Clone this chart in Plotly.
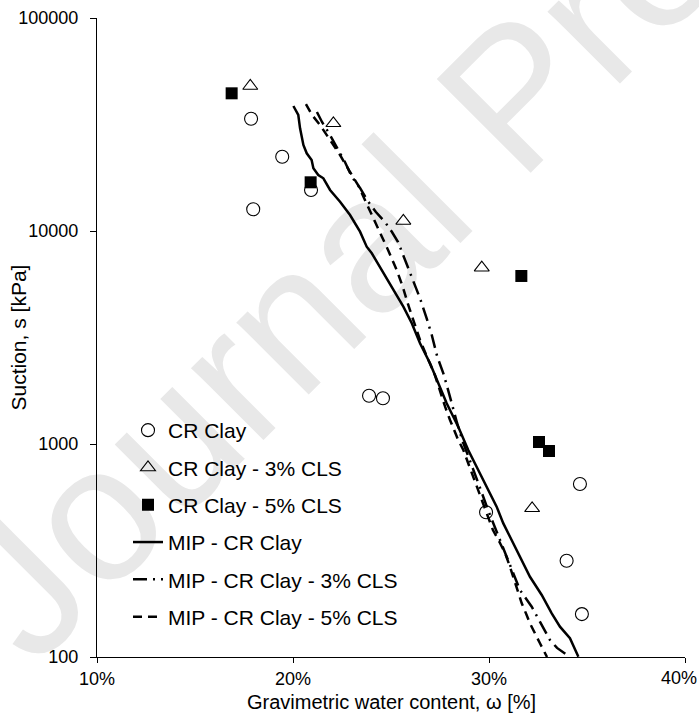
import plotly.graph_objects as go

# ---------------- data ----------------
cr_w = [17.86, 19.45, 20.92, 17.97, 23.88, 24.59, 29.85, 34.64, 33.96, 34.74]
cr_s = [33650, 22330, 15580, 12650, 1686, 1639, 478, 649, 283, 159]

cls3_w = [17.82, 22.06, 25.63, 29.63, 32.20]
cls3_s = [47960, 32030, 11150, 6725, 499]

cls5_w = [16.87, 20.90, 31.65, 32.55, 33.06]
cls5_s = [44300, 16930, 6150, 1022, 927]

mip_w = [20.02, 20.27, 20.36, 20.53, 20.70, 20.95, 21.04, 21.29, 21.55, 21.89, 22.40,
         22.91, 23.42, 23.76, 24.02, 24.61, 25.12, 25.63, 26.06, 26.48, 26.99, 27.41,
         27.84, 28.43, 28.94, 29.45, 29.96, 30.39, 30.73, 31.24, 31.58, 32.09, 32.69,
         33.20, 33.62, 34.13, 34.56]
mip_s = [38630, 35050, 30350, 25340, 23160, 21540, 19700, 18320, 17680, 15580, 13730,
         11890, 9925, 8440, 7860, 6330, 5285, 4412, 3687, 2970, 2393, 1928,
         1553, 1206, 937, 755, 608, 508, 424, 342, 296, 238, 195.5,
         160.4, 138.8, 122.4, 100.3]

mip3_w = [21.22, 21.48, 21.89, 22.30, 22.65, 23.01, 23.42, 23.78, 24.23, 24.69, 25.05,
          25.36, 25.61, 25.87, 26.14, 26.48, 26.82, 27.08, 27.36, 27.67, 27.96, 28.21,
          28.37, 28.67, 29.03, 29.49, 29.95, 30.36, 30.77, 31.22, 31.58, 32.18, 32.86,
          33.11, 33.47, 34.13]
mip3_s = [36210, 32490, 28230, 24010, 21080, 17930, 15920, 13980, 12280, 11020, 9892,
          8879, 7716, 6703, 5781, 4831, 3891, 3249, 2570, 2147, 1730, 1394,
          1255, 1022, 841, 642, 489.9, 394.7, 317.9, 250.6, 206.3, 172.3, 131.5,
          120.2, 110.3, 100]

mip5_w = [20.66, 20.97, 21.38, 21.89, 22.40, 22.91, 23.32, 23.67, 24.03, 24.34, 24.85,
          25.29, 25.60, 25.88, 26.19, 26.48, 26.84, 27.24, 27.76, 28.01, 28.43, 28.69,
          29.03, 29.44, 29.85, 30.20, 30.56, 30.82, 31.07, 31.49, 31.67, 31.92, 32.09,
          32.60, 32.96]
mip5_s = [39460, 35050, 31460, 26750, 22740, 18920, 16440, 13980, 11890, 10330, 8143,
          6560, 5476, 4494, 3687, 3078, 2562, 2108, 1497, 1296, 1044, 937,
          771, 608, 474.5, 394.7, 343, 307.7, 265.4, 199.1, 178.7, 157.5, 143.9,
          116.0, 100]

x_ticks = [10, 20, 30, 40]
x_tick_labels = ["10%", "20%", "30%", ""]   # last label placed as annotation to stay inside the page
x_last_label = "40%"
y_ticks = [100, 1000, 10000, 100000]
y_tick_labels = ["100", "1000", "10000", "100000"]

FONT = "Liberation Sans, Arial, sans-serif"

fig = go.Figure()

fig.add_trace(go.Scatter(x=cr_w, y=cr_s, mode="markers", name="CR Clay",
                         legendgroup="a",
                         marker=dict(symbol="circle-open", size=13, color="black",
                                     line=dict(width=1.1, color="black"))))
fig.add_trace(go.Scatter(x=cls3_w, y=cls3_s, mode="markers", name="CR Clay - 3% CLS",
                         legendgroup="b",
                         marker=dict(symbol="triangle-up-open", size=13, color="black",
                                     line=dict(width=1.1, color="black"))))
fig.add_trace(go.Scatter(x=cls5_w, y=cls5_s, mode="markers", name="CR Clay - 5% CLS",
                         legendgroup="c",
                         marker=dict(symbol="square", size=12, color="black",
                                     line=dict(width=0))))
fig.add_trace(go.Scatter(x=mip_w, y=mip_s, mode="lines", name="MIP - CR Clay",
                         legendgroup="d",
                         line=dict(color="black", width=2.5)))
fig.add_trace(go.Scatter(x=mip3_w, y=mip3_s, mode="lines", name="MIP - CR Clay - 3% CLS",
                         legendgroup="e",
                         line=dict(color="black", width=2.5, dash="14px,6px,2px,6px")))
fig.add_trace(go.Scatter(x=mip5_w, y=mip5_s, mode="lines", name="MIP - CR Clay - 5% CLS",
                         legendgroup="f",
                         line=dict(color="black", width=2.5, dash="9px,6px")))

# watermark (behind the data)
fig.add_shape(type="line", xref="paper", yref="paper",
              x0=0.517, y0=0.743, x1=0.857, y1=1.056, layer="below",
              line=dict(color="rgba(0,0,0,0)", width=0),
              label=dict(text="Journal Pre-proof", textangle=-45,
                         textposition="middle", yanchor="middle",
                         font=dict(size=193, color="#e8e8e8", family=FONT)))

fig.add_annotation(text="Suction, s [kPa]", xref="paper", yref="paper",
                   x=(18 - 97) / 588, y=0.5, textangle=-90, showarrow=False,
                   xanchor="center", yanchor="middle",
                   font=dict(size=21, color="black", family=FONT))
fig.add_annotation(text="Gravimetric water content, ω [%]", xref="paper", yref="paper",
                   x=0.5, y=(657 - 702) / 639, showarrow=False,
                   xanchor="center", yanchor="middle",
                   font=dict(size=20, color="black", family=FONT))
fig.add_annotation(text=x_last_label, xref="paper", yref="paper",
                   x=(698 - 97) / 588, y=(657 - 678) / 639, showarrow=False,
                   xanchor="right", yanchor="middle", borderpad=0,
                   font=dict(size=18, color="black", family=FONT))

fig.update_layout(
    width=699, height=713,
    margin=dict(l=97, r=14, t=18, b=56, autoexpand=False),
    paper_bgcolor="white", plot_bgcolor="rgba(0,0,0,0)",
    font=dict(family=FONT, color="black", size=18),
    showlegend=True,
    legend=dict(x=(128 - 97) / 588, y=(657 - 410) / 639, xanchor="left", yanchor="top",
                bgcolor="rgba(0,0,0,0)", borderwidth=0,
                font=dict(size=21, family=FONT, color="black"),
                tracegroupgap=7, itemwidth=30),
)
fig.update_xaxes(range=[10, 40], tickvals=x_ticks, ticktext=x_tick_labels,
                 showgrid=False, zeroline=False, showline=True, linecolor="black",
                 linewidth=1.3, ticks="outside", ticklen=5, tickcolor="black",
                 ticklabelstandoff=0, automargin=False,
                 tickfont=dict(size=18, family=FONT), mirror=False)
fig.update_yaxes(type="log", range=[2, 5], tickvals=y_ticks, ticktext=y_tick_labels,
                 showgrid=False, zeroline=False, showline=True, linecolor="black",
                 linewidth=1.3, ticks="outside", ticklen=6, tickcolor="black",
                 ticklabelstandoff=8, automargin=False,
                 tickfont=dict(size=18, family=FONT), mirror=False)

fig.write_html("out.html")
